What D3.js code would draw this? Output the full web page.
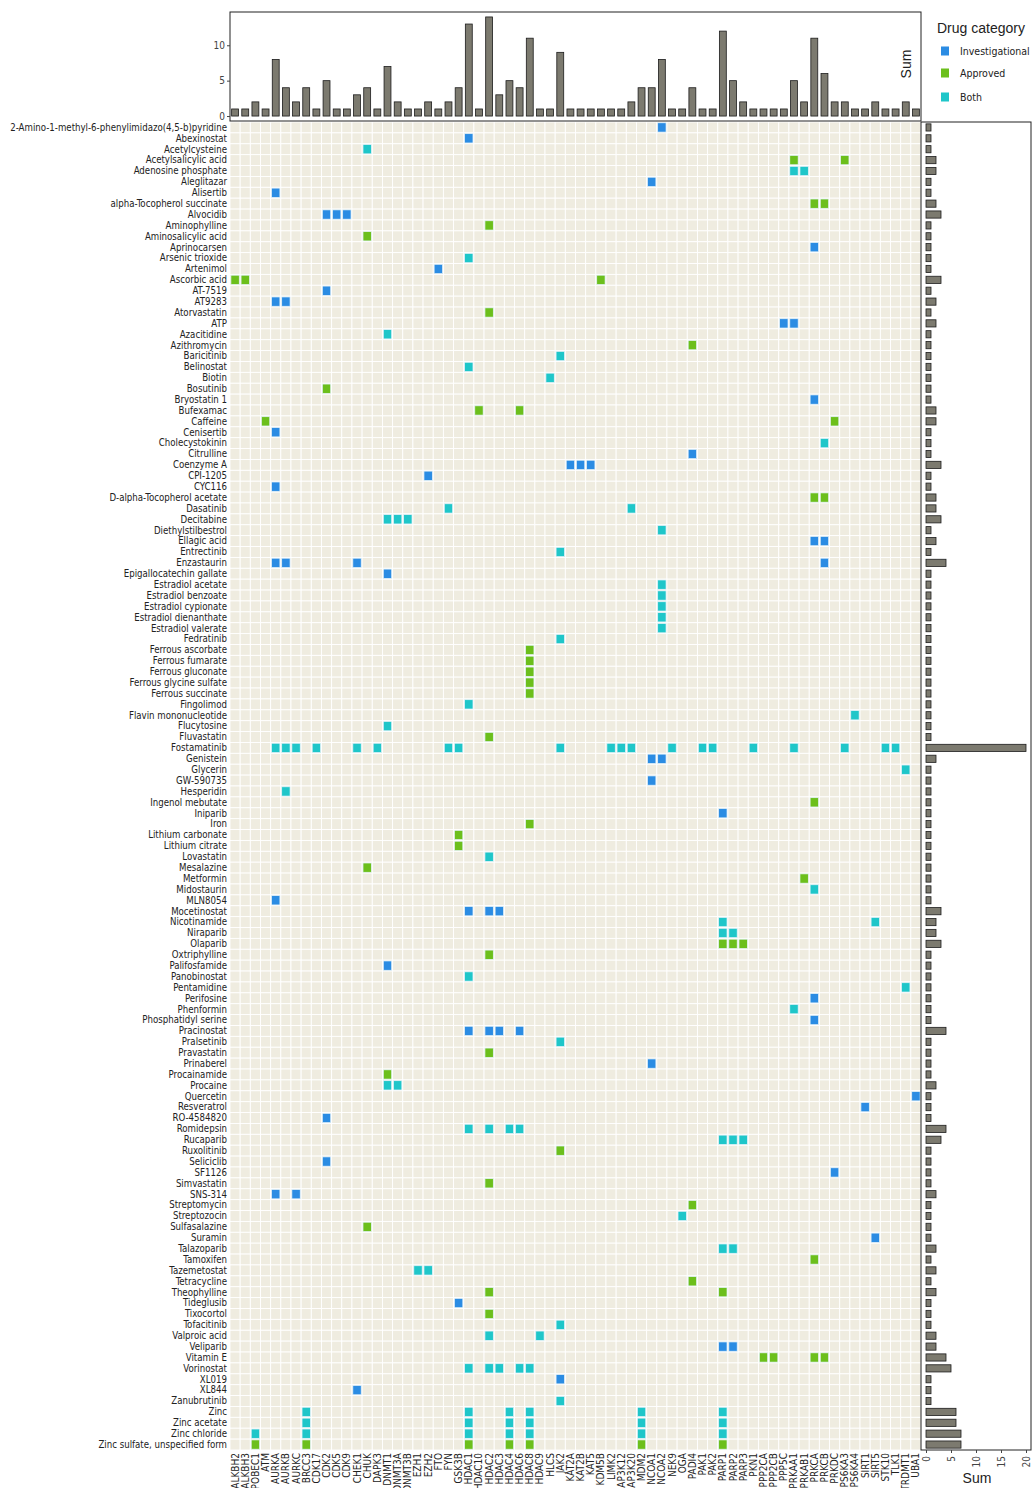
<!DOCTYPE html>
<html lang="en">
<head>
<meta charset="UTF-8">
<script src="https://d3js.org/d3.v7.min.js"></script>
<title>Drug - gene heatmap</title>
<style>
body { margin: 0; background: #fff; }
text { font-family: "Liberation Sans Narrow", "DejaVu Sans Condensed", "Liberation Sans", sans-serif; fill: #222; }
.lbl { font-size: 9.6px; }
.tick { font-size: 10px; fill: #444; }
.title { font-family: "Liberation Sans", Arial, sans-serif; font-size: 14px; }
</style>
</head>
<body>
<script>

// column genes, left to right
var genes = ["ALKBH2","ALKBH3","APOBEC1","ATM","AURKA","AURKB","AURKC","BRCC3","CDK17","CDK2",
  "CDK5","CDK9","CHEK1","CHUK","DAPK3","DNMT1","DNMT3A","DNMT3B","EZH1","EZH2","FTO","FYN",
  "GSK3B","HDAC1","HDAC10","HDAC2","HDAC3","HDAC4","HDAC6","HDAC8","HDAC9","HLCS","JAK2",
  "KAT2A","KAT2B","KAT5","KDM5B","LIMK2","MAP3K12","MAP3K20","MDM2","NCOA1","NCOA2","NEK9",
  "OGA","PADI4","PAK1","PAK2","PARP1","PARP2","PARP3","PKN1","PPP2CA","PPP2CB","PPP5C",
  "PRKAA1","PRKAB1","PRKCA","PRKCB","PRKDC","RPS6KA3","RPS6KA4","SIRT1","SIRT5","STK10",
  "TLK1","TRDMT1","UBA1"];

var categories = ["Investigational", "Approved", "Both"];
var catColors = ["#2b8ce3", "#6cbf1c", "#1fc6c9"];

// drug, category (I / A / B), targeted genes
var drugTargets = [
  ["2-Amino-1-methyl-6-phenylimidazo(4,5-b)pyridine", "I", ["NCOA2"]],
  ["Abexinostat", "I", ["HDAC1"]],
  ["Acetylcysteine", "B", ["CHUK"]],
  ["Acetylsalicylic acid", "A", ["PRKAA1","RPS6KA3"]],
  ["Adenosine phosphate", "B", ["PRKAA1","PRKAB1"]],
  ["Aleglitazar", "I", ["NCOA1"]],
  ["Alisertib", "I", ["AURKA"]],
  ["alpha-Tocopherol succinate", "A", ["PRKCA","PRKCB"]],
  ["Alvocidib", "I", ["CDK2","CDK5","CDK9"]],
  ["Aminophylline", "A", ["HDAC2"]],
  ["Aminosalicylic acid", "A", ["CHUK"]],
  ["Aprinocarsen", "I", ["PRKCA"]],
  ["Arsenic trioxide", "B", ["HDAC1"]],
  ["Artenimol", "I", ["FTO"]],
  ["Ascorbic acid", "A", ["ALKBH2","ALKBH3","KDM5B"]],
  ["AT-7519", "I", ["CDK2"]],
  ["AT9283", "I", ["AURKA","AURKB"]],
  ["Atorvastatin", "A", ["HDAC2"]],
  ["ATP", "I", ["PPP5C","PRKAA1"]],
  ["Azacitidine", "B", ["DNMT1"]],
  ["Azithromycin", "A", ["PADI4"]],
  ["Baricitinib", "B", ["JAK2"]],
  ["Belinostat", "B", ["HDAC1"]],
  ["Biotin", "B", ["HLCS"]],
  ["Bosutinib", "A", ["CDK2"]],
  ["Bryostatin 1", "I", ["PRKCA"]],
  ["Bufexamac", "A", ["HDAC10","HDAC6"]],
  ["Caffeine", "A", ["ATM","PRKDC"]],
  ["Cenisertib", "I", ["AURKA"]],
  ["Cholecystokinin", "B", ["PRKCB"]],
  ["Citrulline", "I", ["PADI4"]],
  ["Coenzyme A", "I", ["KAT2A","KAT2B","KAT5"]],
  ["CPI-1205", "I", ["EZH2"]],
  ["CYC116", "I", ["AURKA"]],
  ["D-alpha-Tocopherol acetate", "A", ["PRKCA","PRKCB"]],
  ["Dasatinib", "B", ["FYN","MAP3K20"]],
  ["Decitabine", "B", ["DNMT1","DNMT3A","DNMT3B"]],
  ["Diethylstilbestrol", "B", ["NCOA2"]],
  ["Ellagic acid", "I", ["PRKCA","PRKCB"]],
  ["Entrectinib", "B", ["JAK2"]],
  ["Enzastaurin", "I", ["AURKA","AURKB","CHEK1","PRKCB"]],
  ["Epigallocatechin gallate", "I", ["DNMT1"]],
  ["Estradiol acetate", "B", ["NCOA2"]],
  ["Estradiol benzoate", "B", ["NCOA2"]],
  ["Estradiol cypionate", "B", ["NCOA2"]],
  ["Estradiol dienanthate", "B", ["NCOA2"]],
  ["Estradiol valerate", "B", ["NCOA2"]],
  ["Fedratinib", "B", ["JAK2"]],
  ["Ferrous ascorbate", "A", ["HDAC8"]],
  ["Ferrous fumarate", "A", ["HDAC8"]],
  ["Ferrous gluconate", "A", ["HDAC8"]],
  ["Ferrous glycine sulfate", "A", ["HDAC8"]],
  ["Ferrous succinate", "A", ["HDAC8"]],
  ["Fingolimod", "B", ["HDAC1"]],
  ["Flavin mononucleotide", "B", ["RPS6KA4"]],
  ["Flucytosine", "B", ["DNMT1"]],
  ["Fluvastatin", "A", ["HDAC2"]],
  ["Fostamatinib", "B", ["AURKA","AURKB","AURKC","CDK17","CHEK1","DAPK3","FYN","GSK3B","JAK2",
    "LIMK2","MAP3K12","MAP3K20","NEK9","PAK1","PAK2","PKN1","PRKAA1","RPS6KA3","STK10","TLK1"]],
  ["Genistein", "I", ["NCOA1","NCOA2"]],
  ["Glycerin", "B", ["TRDMT1"]],
  ["GW-590735", "I", ["NCOA1"]],
  ["Hesperidin", "B", ["AURKB"]],
  ["Ingenol mebutate", "A", ["PRKCA"]],
  ["Iniparib", "I", ["PARP1"]],
  ["Iron", "A", ["HDAC8"]],
  ["Lithium carbonate", "A", ["GSK3B"]],
  ["Lithium citrate", "A", ["GSK3B"]],
  ["Lovastatin", "B", ["HDAC2"]],
  ["Mesalazine", "A", ["CHUK"]],
  ["Metformin", "A", ["PRKAB1"]],
  ["Midostaurin", "B", ["PRKCA"]],
  ["MLN8054", "I", ["AURKA"]],
  ["Mocetinostat", "I", ["HDAC1","HDAC2","HDAC3"]],
  ["Nicotinamide", "B", ["PARP1","SIRT5"]],
  ["Niraparib", "B", ["PARP1","PARP2"]],
  ["Olaparib", "A", ["PARP1","PARP2","PARP3"]],
  ["Oxtriphylline", "A", ["HDAC2"]],
  ["Palifosfamide", "I", ["DNMT1"]],
  ["Panobinostat", "B", ["HDAC1"]],
  ["Pentamidine", "B", ["TRDMT1"]],
  ["Perifosine", "I", ["PRKCA"]],
  ["Phenformin", "B", ["PRKAA1"]],
  ["Phosphatidyl serine", "I", ["PRKCA"]],
  ["Pracinostat", "I", ["HDAC1","HDAC2","HDAC3","HDAC6"]],
  ["Pralsetinib", "B", ["JAK2"]],
  ["Pravastatin", "A", ["HDAC2"]],
  ["Prinaberel", "I", ["NCOA1"]],
  ["Procainamide", "A", ["DNMT1"]],
  ["Procaine", "B", ["DNMT1","DNMT3A"]],
  ["Quercetin", "I", ["UBA1"]],
  ["Resveratrol", "I", ["SIRT1"]],
  ["RO-4584820", "I", ["CDK2"]],
  ["Romidepsin", "B", ["HDAC1","HDAC2","HDAC4","HDAC6"]],
  ["Rucaparib", "B", ["PARP1","PARP2","PARP3"]],
  ["Ruxolitinib", "A", ["JAK2"]],
  ["Seliciclib", "I", ["CDK2"]],
  ["SF1126", "I", ["PRKDC"]],
  ["Simvastatin", "A", ["HDAC2"]],
  ["SNS-314", "I", ["AURKA","AURKC"]],
  ["Streptomycin", "A", ["PADI4"]],
  ["Streptozocin", "B", ["OGA"]],
  ["Sulfasalazine", "A", ["CHUK"]],
  ["Suramin", "I", ["SIRT5"]],
  ["Talazoparib", "B", ["PARP1","PARP2"]],
  ["Tamoxifen", "A", ["PRKCA"]],
  ["Tazemetostat", "B", ["EZH1","EZH2"]],
  ["Tetracycline", "A", ["PADI4"]],
  ["Theophylline", "A", ["HDAC2","PARP1"]],
  ["Tideglusib", "I", ["GSK3B"]],
  ["Tixocortol", "A", ["HDAC2"]],
  ["Tofacitinib", "B", ["JAK2"]],
  ["Valproic acid", "B", ["HDAC2","HDAC9"]],
  ["Veliparib", "I", ["PARP1","PARP2"]],
  ["Vitamin E", "A", ["PPP2CA","PPP2CB","PRKCA","PRKCB"]],
  ["Vorinostat", "B", ["HDAC1","HDAC2","HDAC3","HDAC6","HDAC8"]],
  ["XL019", "I", ["JAK2"]],
  ["XL844", "I", ["CHEK1"]],
  ["Zanubrutinib", "B", ["JAK2"]],
  ["Zinc", "B", ["BRCC3","HDAC1","HDAC4","HDAC8","MDM2","PARP1"]],
  ["Zinc acetate", "B", ["BRCC3","HDAC1","HDAC4","HDAC8","MDM2","PARP1"]],
  ["Zinc chloride", "B", ["APOBEC1","BRCC3","HDAC1","HDAC4","HDAC8","MDM2","PARP1"]],
  ["Zinc sulfate, unspecified form", "A", ["APOBEC1","BRCC3","HDAC1","HDAC4","HDAC8","MDM2","PARP1"]]
];

var topTicks = [0, 5, 10];
var sideTicks = [0, 5, 10, 15, 20];

var catCode = { I: 0, A: 1, B: 2 };
var drugs = drugTargets.map(function(d) { return d[0]; });

// one record per coloured tile
var cells = [];
drugTargets.forEach(function(d) {
  d[2].forEach(function(g) { cells.push({ drug: d[0], gene: g, cat: catCode[d[1]] }); });
});

var geneSum = genes.map(function(g) {
  return { gene: g, n: cells.filter(function(c) { return c.gene == g; }).length };
});
var drugSum = drugTargets.map(function(d) { return { drug: d[0], n: d[2].length }; });

var width = 1035, height = 1488;
var gx0 = 230, gx1 = 921, gy0 = 122, gy1 = 1450;
var tx0 = 12;            // top of column-sum panel
var rx1 = 1031;          // right of row-sum panel

var svg = d3.select("body").append("svg")
    .attr("width", width)
    .attr("height", height);

var x = d3.scaleBand().domain(genes).range([gx0, gx1]);
var y = d3.scaleBand().domain(drugs).range([gy0, gy1]);

// ---- heatmap ----
var grid = svg.append("g");
var allTiles = [];
drugs.forEach(function(dr) { genes.forEach(function(g) { allTiles.push([dr, g]); }); });

grid.selectAll("rect.bg")
    .data(allTiles)
  .enter().append("rect")
    .attr("class", "bg")
    .attr("x", function(d) { return x(d[1]); })
    .attr("y", function(d) { return y(d[0]); })
    .attr("width", x.bandwidth())
    .attr("height", y.bandwidth())
    .attr("fill", "#efece0")
    .attr("stroke", "#fff")
    .attr("stroke-width", 0.9);

grid.selectAll("rect.hit")
    .data(cells)
  .enter().append("rect")
    .attr("class", "hit")
    .attr("x", function(d) { return x(d.gene) + 0.9; })
    .attr("y", function(d) { return y(d.drug) + 0.8; })
    .attr("width", x.bandwidth() - 1.8)
    .attr("height", y.bandwidth() - 1.6)
    .attr("fill", function(d) { return catColors[d.cat]; })
    .attr("stroke", "#e6f4fb")
    .attr("stroke-width", 0.7);

// row labels
svg.append("g").selectAll("text")
    .data(drugs)
  .enter().append("text")
    .attr("class", "lbl")
    .attr("x", gx0 - 3)
    .attr("y", function(d) { return y(d) + y.bandwidth() / 2; })
    .attr("dy", "0.35em")
    .attr("text-anchor", "end")
    .text(function(d) { return d; });

// column labels (the long ones run off the bottom edge, as in the source figure)
svg.append("g").selectAll("text")
    .data(genes)
  .enter().append("text")
    .attr("class", "lbl")
    .attr("transform", function(d) {
      return "translate(" + (x(d) + x.bandwidth() / 2) + "," + (gy1 + 3) + ") rotate(-90)";
    })
    .attr("dy", "0.35em")
    .attr("text-anchor", "end")
    .style("font-size", "10px")
    .text(function(d) { return d; });

// ---- column sums (top) ----
var yTop = d3.scaleLinear().domain([-0.7, 14.7]).range([gy0 - 1, tx0]);
var xTop = d3.scaleBand().domain(genes).range([gx0, gx1]).paddingInner(0.32).paddingOuter(0.16);

svg.append("rect")
    .attr("x", gx0).attr("y", tx0)
    .attr("width", gx1 - gx0).attr("height", gy0 - 1 - tx0)
    .attr("fill", "none").attr("stroke", "#222").attr("stroke-width", 1);

svg.append("g").selectAll("rect")
    .data(geneSum)
  .enter().append("rect")
    .attr("x", function(d) { return xTop(d.gene); })
    .attr("y", function(d) { return yTop(d.n); })
    .attr("width", xTop.bandwidth())
    .attr("height", function(d) { return yTop(0) - yTop(d.n); })
    .attr("fill", "#7c7a6f")
    .attr("stroke", "#1c1c1c")
    .attr("stroke-width", 0.8);

var topAxis = svg.append("g").attr("transform", "translate(" + gx0 + ",0)")
    .call(d3.axisLeft(yTop).tickValues(topTicks).tickSize(3).tickPadding(2));
topAxis.select(".domain").remove();
topAxis.selectAll("text").attr("class", "tick").attr("fill", "#444");
topAxis.selectAll("line").attr("stroke", "#444");

svg.append("text")
    .attr("class", "title")
    .attr("transform", "translate(911," + ((tx0 + gy0) / 2 - 3) + ") rotate(-90)")
    .attr("text-anchor", "middle")
    .text("Sum");

// ---- row sums (right) ----
var xSide = d3.scaleLinear().domain([-1, 21]).range([gx1, rx1]);
var ySide = d3.scaleBand().domain(drugs).range([gy0, gy1]).paddingInner(0.34).paddingOuter(0.17);

svg.append("rect")
    .attr("x", gx1).attr("y", gy0)
    .attr("width", rx1 - gx1).attr("height", gy1 - gy0)
    .attr("fill", "none").attr("stroke", "#222").attr("stroke-width", 1);

svg.append("g").selectAll("rect")
    .data(drugSum)
  .enter().append("rect")
    .attr("x", xSide(0))
    .attr("y", function(d) { return ySide(d.drug); })
    .attr("width", function(d) { return xSide(d.n) - xSide(0); })
    .attr("height", ySide.bandwidth())
    .attr("fill", "#7c7a6f")
    .attr("stroke", "#1c1c1c")
    .attr("stroke-width", 0.8);

var sideAxis = svg.append("g").attr("transform", "translate(0," + gy1 + ")")
    .call(d3.axisBottom(xSide).tickValues(sideTicks).tickSize(3).tickPadding(2));
sideAxis.select(".domain").remove();
sideAxis.selectAll("line").attr("stroke", "#444");
sideAxis.selectAll("text")
    .attr("class", "tick")
    .attr("fill", "#444")
    .attr("transform", "rotate(-90)")
    .attr("text-anchor", "end")
    .attr("x", -6)
    .attr("y", 0)
    .attr("dy", "0.35em");

svg.append("text")
    .attr("class", "title")
    .attr("x", (gx1 + rx1) / 2 + 1)
    .attr("y", 1483)
    .attr("text-anchor", "middle")
    .text("Sum");

// ---- legend ----
var legend = svg.append("g").attr("transform", "translate(937,0)");
legend.append("text")
    .attr("class", "title")
    .attr("x", 0).attr("y", 33)
    .text("Drug category");

var keys = legend.selectAll("g.key")
    .data(categories)
  .enter().append("g")
    .attr("class", "key")
    .attr("transform", function(d, i) { return "translate(0," + [51, 73, 97][i] + ")"; });

keys.append("rect")
    .attr("x", 4).attr("y", -4.5)
    .attr("width", 8).attr("height", 9)
    .attr("fill", function(d, i) { return catColors[i]; });

keys.append("text")
    .attr("x", 23).attr("dy", "0.35em")
    .style("font-size", "10.5px")
    .text(function(d) { return d; });

</script>
</body>
</html>
